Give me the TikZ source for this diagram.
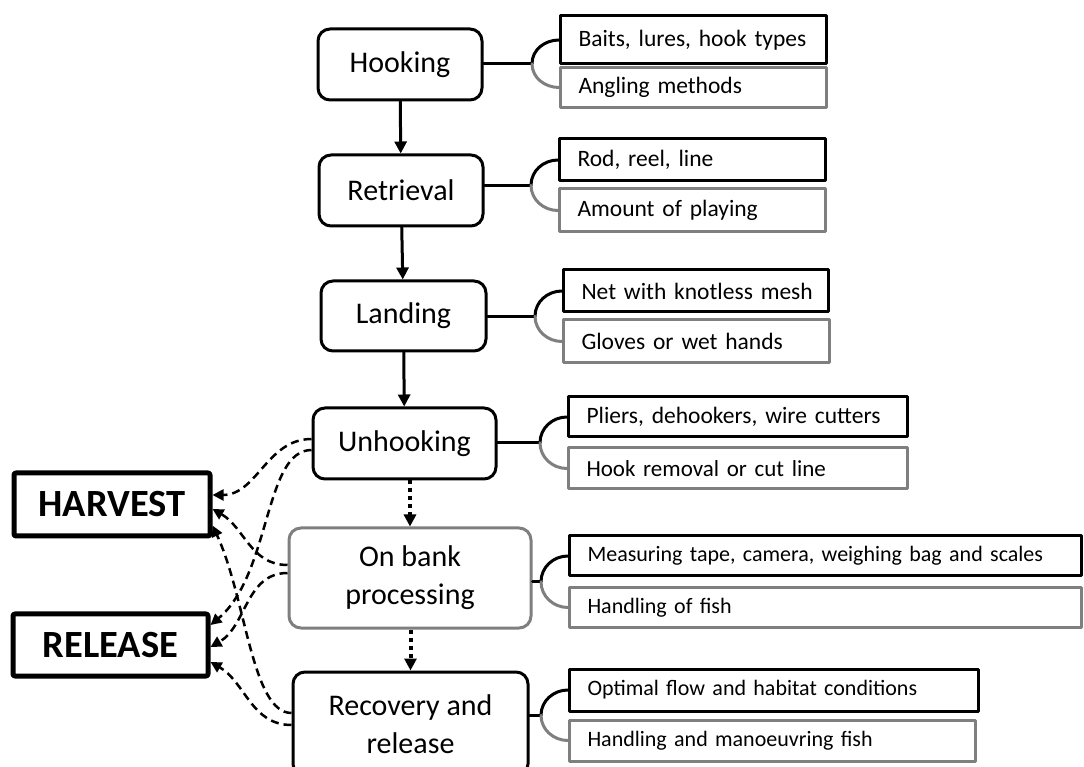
\documentclass[tikz,border=0pt]{standalone}
\usepackage{fontspec}
\setmainfont{Carlito}
\usepackage{tikz}
\usetikzlibrary{calc}
\usetikzlibrary{arrows.meta}
\definecolor{boxgray}{RGB}{127,127,127}

\begin{document}
\begin{tikzpicture}[line cap=round,line join=round,x=1pt,y=1pt,
  stage/.style={draw=black,line width=3pt,rounded corners=12pt,align=center,inner sep=0pt,font=\fontsize{30}{38}\selectfont},
  tool/.style={draw=black,line width=3pt,anchor=west,align=left,inner xsep=18pt,inner ysep=0pt,font=\fontsize{23.5}{28}\selectfont},
  lowtool/.style={tool,font=\fontsize{22}{26}\selectfont},
  outcome/.style={draw=black,line width=5pt,rounded corners=2pt,inner sep=0pt,font=\bfseries\fontsize{38.5}{46}\selectfont},
  flow/.style={line width=3pt,-{Triangle[length=12pt,width=12pt]}},
  optflow/.style={line width=4pt,line cap=butt,dash pattern=on 4pt off 4pt,-{Triangle[length=12pt,width=12pt]}},
  fate/.style={line width=2.5pt,line cap=butt,dash pattern=on 8pt off 5pt,-{Triangle[length=11pt,width=11pt]}},
  brace/.style={line width=3pt}]
\useasboundingbox (0,0) rectangle (1084,766);
% stages of a catch
\node [stage,minimum width=164,minimum height=71] (hook) at (400,701.5) {Hooking};
\node [stage,minimum width=164,minimum height=71] (retr) at (401,575.5) {Retrieval};
\node [stage,minimum width=165,minimum height=70] (land) at (403.5,450) {Landing};
\node [stage,minimum width=183,minimum height=71] (unhook) at (404.5,322.5) {Unhooking};
\node [stage,draw=boxgray,minimum width=242,minimum height=100] (bank) at (410,188) {On bank\\processing};
\node [stage,minimum width=235,minimum height=104] (recov) at (410.5,42) {Recovery and\\release};
% outcomes
\node [outcome,minimum width=196,minimum height=63] (harvest) at (112,261.5) {HARVEST};
\node [outcome,minimum width=195,minimum height=62] (release) at (110.5,121) {RELEASE};
% gear and practice boxes
\node [tool,text width=230,minimum height=48] (hooka) at (559,726) {\mbox{Baits, lures, hook types}};
\node [tool,draw=boxgray,text width=230,minimum height=40] (hookb) at (559,678.5) {\mbox{Angling methods}};
\node [tool,text width=230,minimum height=42] (retra) at (558,606) {\mbox{Rod, reel, line}};
\node [tool,draw=boxgray,text width=230,minimum height=43] (retrb) at (558,555.5) {\mbox{Amount of playing}};
\node [tool,text width=229,minimum height=42] (landa) at (562,475) {\mbox{Net with knotless mesh}};
\node [tool,draw=boxgray,text width=230,minimum height=43] (landb) at (562,424.5) {\mbox{Gloves or wet hands}};
\node [tool,text width=303,minimum height=40] (unhooka) at (567,349) {\mbox{Pliers, dehookers, wire cutters}};
\node [tool,draw=boxgray,text width=303,minimum height=41,font=\fontsize{23}{28}\selectfont] (unhookb) at (567,297.5) {\mbox{Hook removal or cut line}};
\node [lowtool,text width=476,minimum height=40] (banka) at (568,210) {\mbox{Measuring tape, camera, weighing bag and scales}};
\node [lowtool,draw=boxgray,text width=476,minimum height=39] (bankb) at (568,158.5) {\mbox{Handling of fish}};
\node [lowtool,text width=373,minimum height=42] (recova) at (568,76) {\mbox{Optimal flow and habitat conditions}};
\node [lowtool,draw=boxgray,text width=370,minimum height=41] (recovb) at (568,25.5) {\mbox{Handling and manoeuvring fish}};
% brackets
\foreach \s in {hook,retr,land,unhook,bank,recov} {
  \coordinate (\s br) at ($(\s a.west)!0.5!(\s b.west)+(-27,0)$);
  \draw [brace] (\s.east |- \s br) -- (\s br);
  \draw [brace] (\s br) to[out=90,in=180] (\s a.west);
  \draw [brace,draw=boxgray] (\s br) to[out=-90,in=180] (\s b.west);
}
% main sequence
\draw [flow] (hook) -- (retr);
\draw [flow] (retr) -- (land);
\draw [flow] (land) -- (unhook);
\draw [optflow] (unhook.south -| bank) -- (bank.north);
\draw [optflow] (bank.south -| recov) -- (recov.north);
% fate of the fish
\draw [fate] ([yshift=4.5pt]unhook.west) to[out=180,in=0] ([yshift=9.5pt]harvest.east);
\draw [fate] ([yshift=13pt]bank.west) to[out=180,in=-30] ([yshift=-4.5pt]harvest.east);
\draw [fate] ([yshift=11pt]recov.west) to[out=180,in=-65,out looseness=0.5] ([yshift=-21pt]harvest.east);
\draw [fate] ([yshift=-6.5pt]unhook.west) to[out=180,in=40,out looseness=0.6] ([yshift=20pt]release.east);
\draw [fate] ([yshift=5pt]bank.west) to[out=180,in=30] ([yshift=-2pt]release.east);
\draw [fate] ([yshift=-1pt]recov.west) to[out=180,in=-30] ([yshift=-17pt]release.east);
\end{tikzpicture}
\end{document}
